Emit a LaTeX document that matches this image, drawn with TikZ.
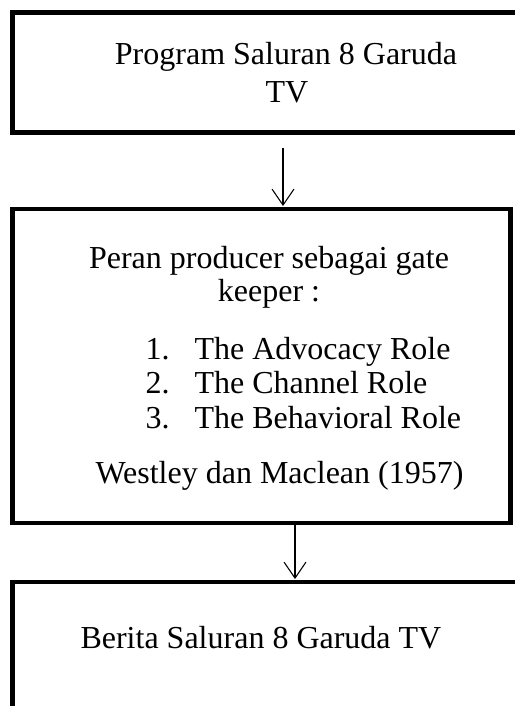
\documentclass[tikz,border=0pt]{standalone}
\usepackage{fontspec}
\setmainfont{Liberation Serif}
\usetikzlibrary{arrows.meta}

\newlength\pxu
\setlength\pxu{0.375pt}

\tikzset{
	box/.style={draw, line width=1.7pt, outer sep=0pt, inner sep=0pt, anchor=north west},
	txt/.style={inner sep=0pt, font=\fontsize{12}{14}\selectfont},
	arr/.style={line width=0.4pt, shorten >=1.1pt, -{Straight Barb[length=6pt, width=8.2pt]}}
}

\begin{document}
\begin{tikzpicture}[x=\pxu, y=-\pxu]
	\useasboundingbox (0, 0) rectangle (515, 706);
	\clip (0, 0) rectangle (515, 706);

	% boxes
	\node[box, minimum width=548*\pxu, minimum height=120*\pxu] (program) at (12.5, 12.5) {};
	\node[box, minimum width=498*\pxu, minimum height=314*\pxu] (peran) at (12.5, 209) {};
	\node[box, minimum width=548*\pxu, minimum height=200*\pxu] (berita) at (12.5, 582) {};

	% texts
	\node[txt, anchor=base] (prog1) at (286, 64.3) {Program Saluran 8 Garuda};
	\node[txt, anchor=base] (prog2) at (287, 102.7) {TV};

	\node[txt, anchor=base] (peran1) at (269, 268.3) {Peran producer sebagai gate};
	\node[txt, anchor=base] (peran2) at (269, 301) {keeper :};
	\foreach \n/\r/\y in {1/Advocacy/359.3, 2/Channel/393.3, 3/Behavioral/428.3} {
		\node[txt, anchor=base west] (num\n) at (145, \y) {\n.};
		\node[txt, anchor=base west] (role\n) at (194, \y) {The \r\ Role};
	}
	\node[txt, anchor=base west] (westley) at (95, 483.3) {Westley dan Maclean (1957)};

	\node[txt, anchor=base west] (berita1) at (80, 648.3) {Berita Saluran 8 Garuda TV};

	% arrows
	\coordinate (a1) at (283, 148);
	\coordinate (a2) at (295, 0);
	\draw[arr] (a1) -- (a1 |- peran.north);
	\draw[arr] (a2 |- peran.south) -- (a2 |- berita.north);
\end{tikzpicture}
\end{document}
